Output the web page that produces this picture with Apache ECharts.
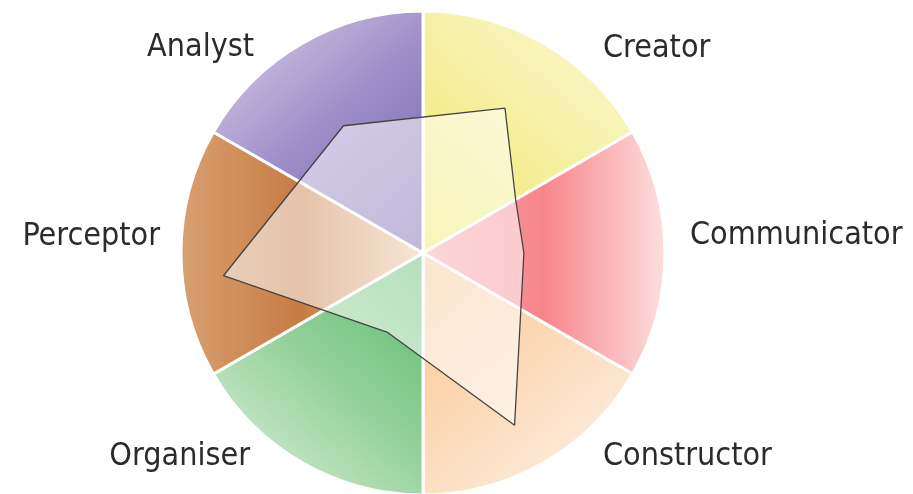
<!DOCTYPE html>
<html>
<head>
<meta charset="utf-8">
<script src="https://cdn.jsdelivr.net/npm/echarts@6/dist/echarts.min.js"></script>
<style>
    html, body {margin: 0; padding: 0; background: #fff;}
    #wheel {width: 913px; height: 494px;}
</style>
</head>
<body>
<div id="wheel"></div>
<script>
// 六个角色（饼图扇区，从正上方顺时针）
var roles = ['Creator', 'Communicator', 'Constructor', 'Organiser', 'Perceptor', 'Analyst'];
var roleShare = [1, 1, 1, 1, 1, 1];

// 个人轮廓多边形：角度（度，从正上方顺时针）与得分（0-100）
var profileAngle = [29.5, 60, 90, 152, 204.5, 263.5, 328, 29.5];
var profileScore = [68.8, 44.2, 41.7, 80.6, 35.9, 83, 62, 68.8];

// 扇区渐变色
var sliceGrad = [
    {x: 0, y: 1, x2: 1, y2: 0, stops: ['#efe766', '#f5f0a0', '#fcf9dc']},   // Creator
    {x: 0, y: 0, x2: 1, y2: 0, stops: ['#f9a5a8', '#f7868b', '#fde0df']},   // Communicator
    {x: 0, y: 0, x2: 1, y2: 1, stops: ['#fbc590', '#fcdbbb', '#fef4ea']},   // Constructor
    {x: 1, y: 0, x2: 0, y2: 1, stops: ['#5ab96a', '#96d29c', '#e2f2df']},   // Organiser
    {x: 0, y: 0, x2: 1, y2: 0, stops: ['#d8a071', '#c77b43', '#ebc7a2']},   // Perceptor
    {x: 0, y: 0, x2: 1, y2: 1, stops: ['#ddd3ea', '#9d8dc8', '#7262aa']}    // Analyst
];

// 标签位置 [x, y, 对齐]
var labelPos = [
    [603, 49, 'left'],
    [690, 236, 'left'],
    [603, 457, 'left'],
    [250, 457, 'right'],
    [160, 237, 'right'],
    [254, 48, 'right']
];

var wheel = echarts.init(document.getElementById('wheel'));

var pieData = [];
for (var i = 0; i < roles.length; i++) {
    var g = sliceGrad[i];
    pieData.push({
        name: roles[i],
        value: roleShare[i],
        itemStyle: {
            color: new echarts.graphic.LinearGradient(g.x, g.y, g.x2, g.y2, [
                {offset: 0, color: g.stops[0]},
                {offset: 0.5, color: g.stops[1]},
                {offset: 1, color: g.stops[2]}
            ])
        }
    });
}

var profile = [];
for (var j = 0; j < profileAngle.length; j++) {
    profile.push([profileScore[j], profileAngle[j]]);
}

option = {
    backgroundColor: '#fff',
    animation: false,
    polar: {
        center: [423, 253],
        radius: 242
    },
    angleAxis: {
        type: 'value',
        min: 0,
        max: 360,
        startAngle: 90,
        clockwise: true,
        show: false
    },
    radiusAxis: {
        type: 'value',
        min: 0,
        max: 100,
        show: false
    },
    series: [
        {
            name: 'roles',
            type: 'pie',
            center: [423, 253],
            radius: 242,
            startAngle: 90,
            clockwise: true,
            silent: true,
            avoidLabelOverlap: false,
            itemStyle: {
                borderColor: '#fff',
                borderWidth: 3
            },
            label: {
                show: true,
                position: 'outside',
                color: '#2b2b2b',
                fontSize: 32,
                fontFamily: "'DejaVu Sans Condensed', 'Liberation Sans Narrow', sans-serif"
            },
            labelLine: {show: false},
            labelLayout: function (params) {
                var p = labelPos[params.dataIndex];
                return {x: p[0], y: p[1], align: p[2], verticalAlign: 'middle'};
            },
            data: pieData
        },
        {
            name: 'profile',
            type: 'line',
            coordinateSystem: 'polar',
            z: 5,
            clip: false,
            silent: true,
            showSymbol: false,
            lineStyle: {color: '#444', width: 1.3},
            areaStyle: {color: '#fff', opacity: 0.55},
            data: profile
        }
    ]
};

wheel.setOption(option);
</script>
</body>
</html>
